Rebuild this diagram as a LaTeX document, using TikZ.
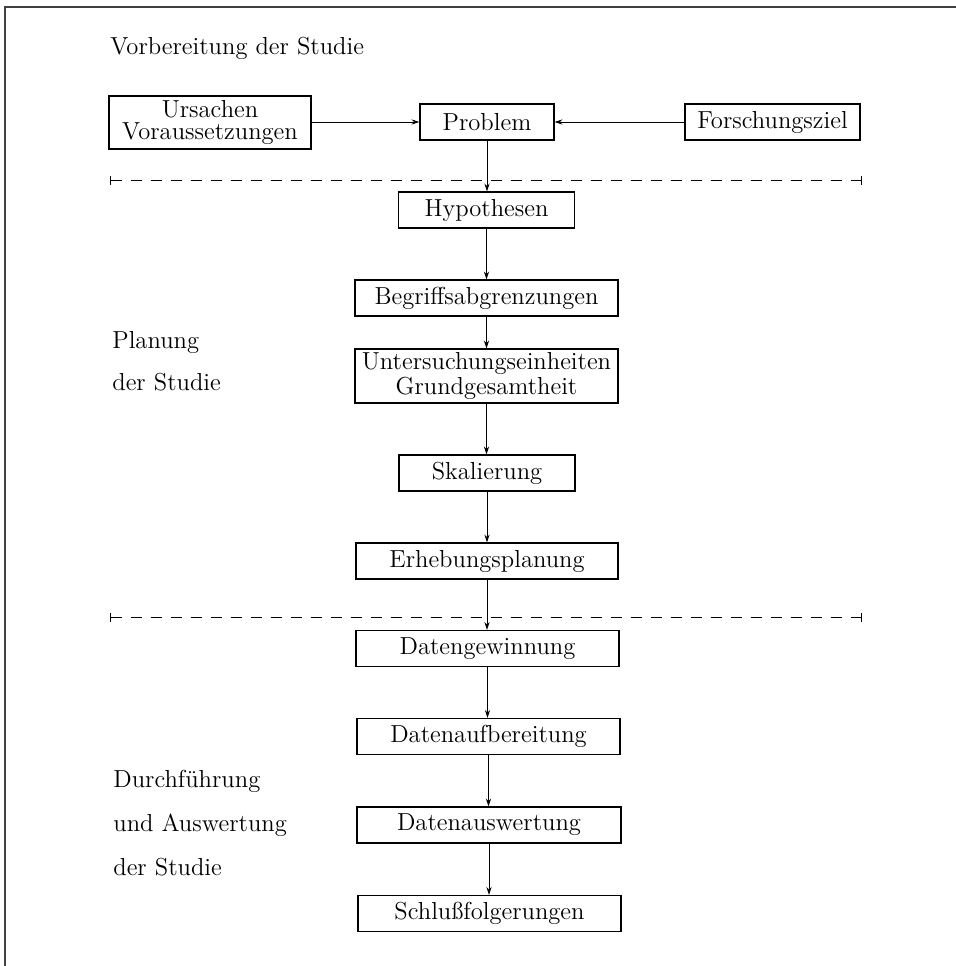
\documentclass[tikz,border=0pt]{standalone}
\usetikzlibrary{arrows.meta}
\begin{document}
\begin{tikzpicture}[x=0.5pt,y=-0.5pt,
 box/.style={draw,line width=0.55pt,inner sep=0pt,minimum height=18pt,align=center,font=\fontsize{12.3}{11}\selectfont},
 lbl/.style={anchor=base west,inner sep=0pt,font=\fontsize{12.3}{14}\selectfont},
 arr/.style={-{Stealth[length=4pt,width=2.6pt]},line width=0.45pt},
 sepline/.style={dash pattern=on 5.5pt off 4.5pt,line width=0.45pt,{Bar[width=4.5pt]}-{Bar[width=4.5pt]}}]
\useasboundingbox (0,0) rectangle (956,966);
\draw[line width=0.9pt,black!75] (5,966) -- (5,7) -- (956,7);

\node[lbl] (t1) at (110,54) {Vorbereitung der Studie};
\node[box,minimum width=101pt,minimum height=26.5pt] (urs) at (210,122.5) {Ursachen\\Voraussetzungen};
\node[box,minimum width=67pt] (prob) at (487,122) {Problem};
\node[box,minimum width=87.5pt] (fz) at (772.5,122) {Forschungsziel};
\coordinate (d1l) at (110,180);
\coordinate (d1r) at (862,180);
\node[box,minimum width=88pt] (hyp) at (486.5,210) {Hypothesen};
\node[box,minimum width=131.5pt] (begr) at (486.5,298) {Begriffsabgrenzungen};
\node[box,minimum width=131.5pt,minimum height=27pt] (unt) at (486.5,376) {Untersuchungseinheiten\\Grundgesamtheit};
\node[box,minimum width=88pt] (skal) at (487,473) {Skalierung};
\node[box,minimum width=131pt] (erh) at (487,561) {Erhebungsplanung};
\coordinate (d2l) at (110,617);
\coordinate (d2r) at (862,617);
\node[box,minimum width=131.5pt] (dg) at (487.5,648.5) {Datengewinnung};
\node[box,minimum width=131.5pt] (dab) at (488.5,736.5) {Datenaufbereitung};
\node[box,minimum width=132pt] (das) at (489,825) {Datenauswertung};
\node[box,minimum width=131.5pt] (sf) at (489.5,913.5) {Schlußfolgerungen};

\node[lbl] (pl1) at (112,348) {Planung};
\node[lbl] (pl2) at (112,390) {der Studie};
\node[lbl] (du1) at (113,787) {Durchführung};
\node[lbl] (du2) at (113,831) {und Auswertung};
\node[lbl] (du3) at (113,875) {der Studie};

\draw[sepline] (d1l) -- (d1r);
\draw[sepline] (d2l) -- (d2r);

\draw[arr] (urs.east |- prob) -- (prob.west);
\draw[arr] (fz.west) -- (prob.east);
\draw[arr] (prob) -- (prob |- hyp.north);
\draw[arr] (hyp) -- (hyp |- begr.north);
\draw[arr] (begr) -- (begr |- unt.north);
\draw[arr] (unt) -- (unt |- skal.north);
\draw[arr] (skal) -- (skal |- erh.north);
\draw[arr] (erh) -- (erh |- dg.north);
\draw[arr] (dg) -- (dg |- dab.north);
\draw[arr] (dab) -- (dab |- das.north);
\draw[arr] (das) -- (das |- sf.north);
\end{tikzpicture}
\end{document}
